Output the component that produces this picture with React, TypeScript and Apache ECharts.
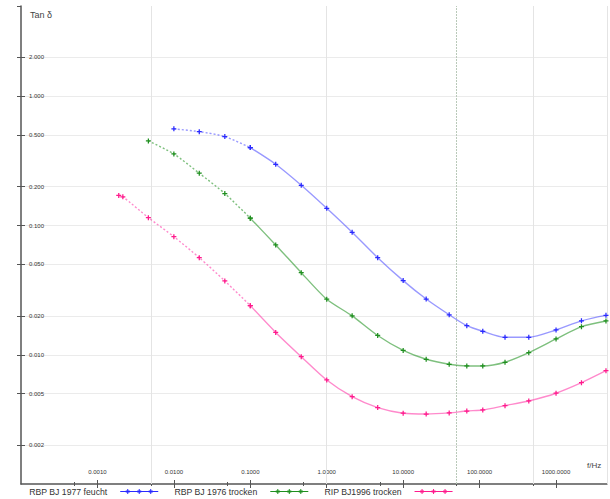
import React, { useEffect, useRef } from "react";
import * as echarts from "echarts";

// ---- data ----
const seriesNames = ["RBP BJ 1977 feucht", "RBP BJ 1976 trocken", "RIP BJ1996 trocken"];

const freqBlue = [0.01, 0.0215, 0.0464, 0.1, 0.215, 0.464, 1, 2.15, 4.64, 10, 20, 40, 68, 110, 215, 440, 1000, 2150, 4500];
const tanBlue = [0.56, 0.533, 0.488, 0.401, 0.298, 0.205, 0.136, 0.0887, 0.0564, 0.0375, 0.027, 0.0204, 0.0168, 0.0152, 0.01365, 0.01365, 0.01556, 0.0183, 0.0202];

const freqGreen = [0.00464, 0.01, 0.0215, 0.0464, 0.1, 0.215, 0.464, 1, 2.15, 4.64, 10, 20, 40, 68, 110, 215, 440, 1000, 2150, 4500];
const tanGreen = [0.452, 0.358, 0.254, 0.177, 0.114, 0.0708, 0.0432, 0.0269, 0.02, 0.0141, 0.0108, 0.00923, 0.00844, 0.00819, 0.00819, 0.00875, 0.01038, 0.01325, 0.0165, 0.01826];

const freqPink = [0.0019, 0.00215, 0.00464, 0.01, 0.0215, 0.0464, 0.1, 0.215, 0.464, 1, 2.15, 4.64, 10, 20, 40, 68, 110, 215, 440, 1000, 2150, 4500];
const tanPink = [0.171, 0.167, 0.1151, 0.082, 0.0564, 0.0373, 0.024, 0.0149, 0.00967, 0.00638, 0.00474, 0.0039, 0.00353, 0.00348, 0.00355, 0.00367, 0.00374, 0.00404, 0.00439, 0.00504, 0.00608, 0.00753];

const yTicks = [0.002, 0.005, 0.01, 0.02, 0.05, 0.1, 0.2, 0.5, 1, 2];
const xMajorTicks = [0.001, 0.01, 0.1, 1, 10, 100, 1000];
const xMinorTicks = [0.0005, 0.005, 0.05, 0.5, 5, 50, 500];
const xGridLines = [0.005, 1, 500];
const xDottedLines = [50];
const X_MIN = 0.0001;
const X_MAX = Math.pow(10, 11 / 3);
const Y_MIN = 0.001;
const Y_MAX = 5;
const DASH_LIMIT = 0.1; // below this frequency the curves are dashed

const markerColors = ["#2a2aff", "#1f8f1f", "#ff1a8c"];
const lineColors = ["rgba(70,70,255,0.55)", "rgba(40,150,40,0.6)", "rgba(255,60,170,0.6)"];

const PLUS = "path://M3,0H5V3H8V5H5V8H3V5H0V3H3Z";
const LEGEND_ICON =
  "path://M0,3.5H38V4.5H0Z M7,1.5H8V6.5H7Z M5.5,3H9.5V5H5.5Z M18.5,1.5H19.5V6.5H18.5Z M17,3H21V5H17Z M30,1.5H31V6.5H30Z M28.5,3H32.5V5H28.5Z";

const FONT = "'Liberation Sans', Arial, sans-serif";

function buildSeries() {
  const sets = [
    [freqBlue, tanBlue],
    [freqGreen, tanGreen],
    [freqPink, tanPink],
  ];
  const out: any[] = [];
  sets.forEach(([fx, ty], i) => {
    const pts = fx.map((f, k) => [f, ty[k]]);
    const dashed = pts.filter((p) => p[0] <= DASH_LIMIT);
    const solid = pts.filter((p) => p[0] >= DASH_LIMIT);
    const common = {
      type: "line",
      name: seriesNames[i],
      symbol: PLUS,
      symbolSize: 5,
      showAllSymbol: true,
      smooth: 0.25,
      color: markerColors[i],
      itemStyle: { color: markerColors[i], borderWidth: 0 },
      emphasis: { disabled: true },
      z: 3,
    };
    out.push({
      ...common,
      data: dashed,
      lineStyle: { color: lineColors[i], width: 1.4, type: [2, 2] },
    });
    const s: any = {
      ...common,
      data: solid,
      lineStyle: { color: lineColors[i], width: 1.4, type: "solid" },
    };
    if (i === 0) {
      s.markLine = {
        silent: true,
        precision: 8,
        symbol: ["none", "none"],
        label: { show: false },
        animation: false,
        z: 1,
        data: [
          ...xGridLines.map((v) => ({ xAxis: v, lineStyle: { color: "#e4e4e4", width: 1, type: "solid" } })),
          { xAxis: X_MAX, lineStyle: { color: "#e4e4e4", width: 1, type: "solid" } },
          ...xDottedLines.map((v) => ({ xAxis: v, lineStyle: { color: "#b9c9b9", width: 1, type: [2, 1] } })),
        ],
      };
    }
    out.push(s);
  });
  return out;
}

export default function App() {
  const ref = useRef<HTMLDivElement>(null);
  useEffect(() => {
    if (!ref.current) return;
    const chart = echarts.init(ref.current, null, { renderer: "svg" });
    const baseX = {
      type: "log",
      logBase: 10,
      min: X_MIN,
      max: X_MAX,
      position: "bottom",
      splitLine: { show: false },
    };
    const baseY = {
      type: "log",
      logBase: 10,
      min: Y_MIN,
      max: Y_MAX,
      position: "left",
    };
    chart.setOption({
      animation: false,
      grid: { left: 21, right: 3, top: 6, bottom: 15, containLabel: false },
      title: {
        text: "Tan δ",
        left: 30,
        top: 10,
        padding: 0,
        textStyle: { fontSize: 9, fontWeight: "normal", color: "#444", fontFamily: FONT },
      },
      graphic: [
        {
          type: "text",
          left: 587,
          top: 461,
          style: { text: "f/Hz", fontSize: 8, fill: "#444", fontFamily: FONT },
        },
      ],
      legend: {
        left: 29,
        top: 487,
        padding: 0,
        align: "right",
        itemWidth: 38,
        itemHeight: 5,
        itemGap: 16,
        selectedMode: false,
        itemStyle: { borderWidth: 0 },
        textStyle: { fontSize: 8.7, color: "#333", fontFamily: FONT, padding: [0, 8, 0, 0] },
        data: seriesNames.map((n) => ({ name: n, icon: LEGEND_ICON })),
      },
      xAxis: [
        {
          ...baseX,
          axisLine: { show: true, lineStyle: { color: "#555", width: 1.5 } },
          axisTick: { show: true, inside: true, length: 4, customValues: xMajorTicks, lineStyle: { color: "#555" } },
          axisLabel: {
            show: true,
            inside: true,
            margin: 9,
            fontSize: 6,
            color: "#333",
            fontFamily: FONT,
            customValues: xMajorTicks,
            formatter: (v: number) => v.toFixed(4),
          },
        },
        {
          ...baseX,
          axisLine: { show: false },
          axisTick: { show: true, inside: false, length: 4, customValues: xMajorTicks, lineStyle: { color: "#555" } },
          axisLabel: { show: false },
        },
        {
          ...baseX,
          axisLine: { show: false },
          axisTick: { show: true, inside: true, length: 2, customValues: xMinorTicks, lineStyle: { color: "#555" } },
          axisLabel: { show: false },
        },
        {
          ...baseX,
          axisLine: { show: false },
          axisTick: { show: true, inside: false, length: 2, customValues: xMinorTicks, lineStyle: { color: "#555" } },
          axisLabel: { show: false },
        },
      ],
      yAxis: [
        {
          ...baseY,
          axisLine: { show: true, lineStyle: { color: "#555", width: 1.5 } },
          axisTick: { show: true, inside: true, length: 4, customValues: yTicks, lineStyle: { color: "#555" } },
          axisLabel: {
            show: true,
            inside: true,
            margin: 8,
            fontSize: 6,
            color: "#333",
            fontFamily: FONT,
            customValues: yTicks,
            formatter: (v: number) => v.toFixed(3),
          },
          splitLine: { show: true, lineStyle: { color: "#ebebeb", width: 1 } },
        },
        {
          ...baseY,
          axisLine: { show: false },
          axisTick: { show: true, inside: false, length: 4, customValues: [...yTicks, Y_MAX], lineStyle: { color: "#555" } },
          axisLabel: { show: false },
          splitLine: { show: false },
        },
      ],
      series: buildSeries(),
    });
    return () => chart.dispose();
  }, []);
  return (
    <div
      ref={ref}
      style={{ position: "absolute", left: 0, top: 0, width: 610, height: 499 }}
    />
  );
}
